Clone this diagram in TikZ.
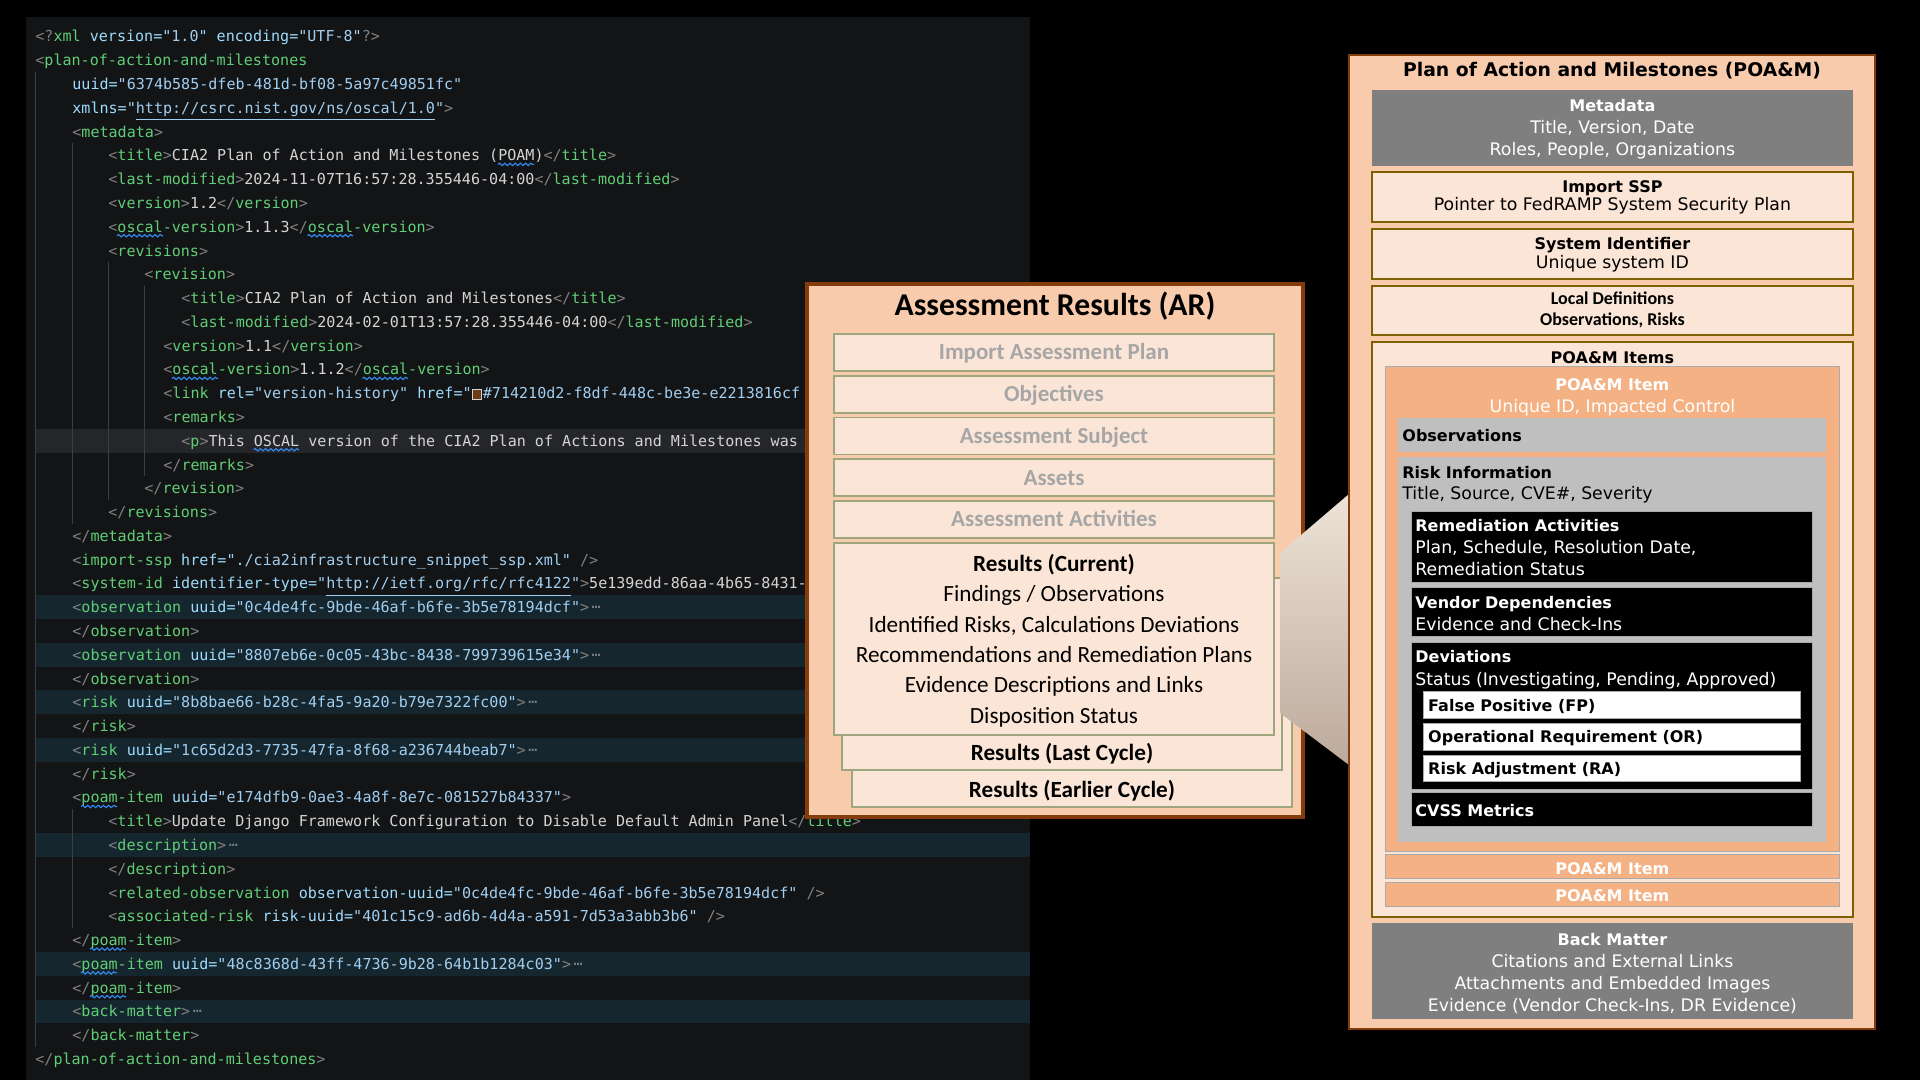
\documentclass[tikz,border=0pt]{standalone}
\usepackage{fontspec}
\setmainfont{DejaVu Sans}
\setmonofont{DejaVu Sans Mono}
\newfontfamily\arfont{Carlito}
\usetikzlibrary{fit,positioning,decorations.pathmorphing}

\definecolor{edbg}{RGB}{19,20,22}
\definecolor{edfold}{RGB}{22,38,46}
\definecolor{edcur}{RGB}{37,38,41}
\definecolor{edguide}{RGB}{62,62,64}
\definecolor{xbrc}{RGB}{128,128,128}
\definecolor{xtgc}{RGB}{96,206,118}
\definecolor{xatc}{RGB}{156,220,254}
\definecolor{xstc}{RGB}{160,206,240}
\definecolor{xtxc}{RGB}{212,212,212}
\definecolor{squigc}{RGB}{52,140,245}
\definecolor{sqc}{RGB}{110,60,20}
\definecolor{arbrown}{RGB}{132,60,12}
\definecolor{arpeach}{RGB}{248,203,173}
\definecolor{arlight}{RGB}{251,229,214}
\definecolor{arolive}{RGB}{158,166,126}
\definecolor{argray}{RGB}{166,166,166}
\definecolor{pmolive}{RGB}{127,96,0}
\definecolor{pmgray}{RGB}{127,127,127}
\definecolor{pmorange}{RGB}{244,177,131}
\definecolor{pmsilver}{RGB}{191,191,191}
\definecolor{pmedge}{RGB}{170,170,170}
\definecolor{wedgetop}{RGB}{238,227,215}
\definecolor{wedgebot}{RGB}{188,170,156}

% xml colouring
\newcommand\xbr[1]{\textcolor{xbrc}{#1}}
\newcommand\xtg[1]{\textcolor{xtgc}{#1}}
\newcommand\xat[1]{\textcolor{xatc}{#1}}
\newcommand\xst[1]{\textcolor{xstc}{#1}}
\newcommand\xtx[1]{\textcolor{xtxc}{#1}}
\newcommand\xop[1]{\xbr{<}\xtg{#1}\xbr{>}}
\newcommand\xcl[1]{\xbr{</}\xtg{#1}\xbr{>}}
\newcommand\xfold{\xbr{\,\raisebox{2pt}{…}}}
\newcommand\colsq{{\setlength\fboxsep{0pt}\setlength\fboxrule{0.5pt}\fcolorbox{xtxc}{sqc}{\rule{0pt}{4.2pt}\rule{4.2pt}{0pt}}}\hspace{0.4pt}}
\newcommand\codeln[3]{\node[code] (c#1) at (#2,{18.22+23.78*#1}) {#3};}

\begin{document}
\begin{tikzpicture}[x=0.5pt, y=-0.5pt,
  code/.style={anchor=base west, inner sep=0pt, font=\ttfamily\fontsize{7.53}{9}\selectfont},
  guide/.style={draw=edguide, line width=0.5pt},
  squig/.style={draw=squigc, line width=0.55pt, decorate, decoration={snake, amplitude=0.6pt, segment length=2.6pt}},
  arframe/.style={draw=arbrown, line width=1.6pt, fill=arpeach, inner sep=0pt},
  arpart/.style={draw=arolive, line width=0.8pt, fill=arlight, inner sep=0pt},
  argrey/.style={anchor=base, inner sep=0pt, text=argray, font=\arfont\bfseries\fontsize{11.5}{14}\selectfont},
  arhead/.style={anchor=base, inner sep=0pt, font=\arfont\bfseries\fontsize{11.6}{14}\selectfont},
  artext/.style={anchor=base, inner sep=0pt, font=\arfont\fontsize{11.6}{14}\selectfont},
  pmframe/.style={draw=arbrown, line width=1.2pt, fill=arpeach, inner sep=0pt},
  pmdark/.style={fill=pmgray, inner sep=0pt},
  pmpart/.style={draw=pmolive, line width=1pt, fill=arlight, inner sep=0pt},
  pmitem/.style={draw=pmedge, line width=0.5pt, fill=pmorange, inner sep=0pt},
  pmsub/.style={fill=pmsilver, inner sep=0pt},
  pmblack/.style={fill=black, draw=pmedge, line width=0.4pt, inner sep=0pt},
  pmwhite/.style={fill=white, draw=pmedge, line width=0.4pt, inner sep=0pt},
  pmhead/.style={anchor=base, inner sep=0pt, font=\bfseries\fontsize{8}{10}\selectfont},
  pmtext/.style={anchor=base, inner sep=0pt, font=\fontsize{8.65}{10}\selectfont}
]
\useasboundingbox (0,0) rectangle (1920,1080);
\fill[black] (0,0) rectangle (1920,1080);

% editor
\fill[edbg] (26,17) rectangle (1030,1080);
\fill[edcur] (35,{36.5+23.78*17-11.9}) rectangle (1030,{36.5+23.78*17+11.9});
\foreach \n in {25,27,29,31,35,40,42}
  \fill[edfold] (35,{36.5+23.78*(\n-1)-11.9}) rectangle (1030,{36.5+23.78*(\n-1)+11.9});
\foreach \x/\a/\b in {35/3/43, 72/6/21, 108/11/20, 144/12/19, 72/34/38}
  \draw[guide] (\x,{24.6+23.78*(\a-1)}) -- (\x,{48.4+23.78*(\b-1)});

\codeln{1}{35}{\xbr{<?}\xtg{xml} \xat{version=}\xst{"1.0"} \xat{encoding=}\xst{"UTF-8"}\xbr{?>}}
\codeln{2}{35}{\xbr{<}\xtg{plan-of-action-and-milestones}}
\codeln{3}{72}{\xat{uuid=}\xst{"6374b585-dfeb-481d-bf08-5a97c49851fc"}}
\codeln{4}{72}{\xat{xmlns=}\xst{"\underline{http://csrc.nist.gov/ns/oscal/1.0}"}\xbr{>}}
\codeln{5}{72}{\xop{metadata}}
\codeln{6}{108}{\xop{title}\xtx{CIA2 Plan of Action and Milestones (POAM)}\xcl{title}}
\codeln{7}{108}{\xop{last-modified}\xtx{2024-11-07T16:57:28.355446-04:00}\xcl{last-modified}}
\codeln{8}{108}{\xop{version}\xtx{1.2}\xcl{version}}
\codeln{9}{108}{\xop{oscal-version}\xtx{1.1.3}\xcl{oscal-version}}
\codeln{10}{108}{\xop{revisions}}
\codeln{11}{144}{\xop{revision}}
\codeln{12}{181}{\xop{title}\xtx{CIA2 Plan of Action and Milestones}\xcl{title}}
\codeln{13}{181}{\xop{last-modified}\xtx{2024-02-01T13:57:28.355446-04:00}\xcl{last-modified}}
\codeln{14}{163}{\xop{version}\xtx{1.1}\xcl{version}}
\codeln{15}{163}{\xop{oscal-version}\xtx{1.1.2}\xcl{oscal-version}}
\codeln{16}{163}{\xbr{<}\xtg{link} \xat{rel=}\xst{"version-history"} \xat{href=}\xst{"}\colsq\xst{\#714210d2-f8df-448c-be3e-e2213816cf}}
\codeln{17}{163}{\xop{remarks}}
\codeln{18}{181}{\xop{p}\xtx{This OSCAL version of the CIA2 Plan of Actions and Milestones was}}
\codeln{19}{163}{\xcl{remarks}}
\codeln{20}{144}{\xcl{revision}}
\codeln{21}{108}{\xcl{revisions}}
\codeln{22}{72}{\xcl{metadata}}
\codeln{23}{72}{\xbr{<}\xtg{import-ssp} \xat{href=}\xst{"./cia2infrastructure\_snippet\_ssp.xml"} \xbr{/>}}
\codeln{24}{72}{\xbr{<}\xtg{system-id} \xat{identifier-type=}\xst{"\underline{http://ietf.org/rfc/rfc4122}"}\xbr{>}\xtx{5e139edd-86aa-4b65-8431-}}
\codeln{25}{72}{\xbr{<}\xtg{observation} \xat{uuid=}\xst{"0c4de4fc-9bde-46af-b6fe-3b5e78194dcf"}\xbr{>}\xfold}
\codeln{26}{72}{\xcl{observation}}
\codeln{27}{72}{\xbr{<}\xtg{observation} \xat{uuid=}\xst{"8807eb6e-0c05-43bc-8438-799739615e34"}\xbr{>}\xfold}
\codeln{28}{72}{\xcl{observation}}
\codeln{29}{72}{\xbr{<}\xtg{risk} \xat{uuid=}\xst{"8b8bae66-b28c-4fa5-9a20-b79e7322fc00"}\xbr{>}\xfold}
\codeln{30}{72}{\xcl{risk}}
\codeln{31}{72}{\xbr{<}\xtg{risk} \xat{uuid=}\xst{"1c65d2d3-7735-47fa-8f68-a236744beab7"}\xbr{>}\xfold}
\codeln{32}{72}{\xcl{risk}}
\codeln{33}{72}{\xbr{<}\xtg{poam-item} \xat{uuid=}\xst{"e174dfb9-0ae3-4a8f-8e7c-081527b84337"}\xbr{>}}
\codeln{34}{108}{\xop{title}\xtx{Update Django Framework Configuration to Disable Default Admin Panel}\xcl{title}}
\codeln{35}{108}{\xop{description}\xfold}
\codeln{36}{108}{\xcl{description}}
\codeln{37}{108}{\xbr{<}\xtg{related-observation} \xat{observation-uuid=}\xst{"0c4de4fc-9bde-46af-b6fe-3b5e78194dcf"} \xbr{/>}}
\codeln{38}{108}{\xbr{<}\xtg{associated-risk} \xat{risk-uuid=}\xst{"401c15c9-ad6b-4d4a-a591-7d53a3abb3b6"} \xbr{/>}}
\codeln{39}{72}{\xcl{poam-item}}
\codeln{40}{72}{\xbr{<}\xtg{poam-item} \xat{uuid=}\xst{"48c8368d-43ff-4736-9b28-64b1b1284c03"}\xbr{>}\xfold}
\codeln{41}{72}{\xcl{poam-item}}
\codeln{42}{72}{\xop{back-matter}\xfold}
\codeln{43}{72}{\xcl{back-matter}}
\codeln{44}{35}{\xcl{plan-of-action-and-milestones}}

\foreach \n/\a/\b in {6/498/534, 9/117/163, 9/307.5/353, 15/172/218, 15/362.5/408, 18/253.6/299, 33/81/117, 39/90/126, 40/81/117, 41/90/126}
  \draw[squig] (\a,{21.72+23.78*\n}) -- (\b,{21.72+23.78*\n});

% assessment results
\node[arframe, fit={(807,284) (1303,817)}] (ar) {};
\node[arhead, font=\arfont\bfseries\fontsize{15.85}{18}\selectfont] (art) at (1055,316) {Assessment Results (AR)};
\foreach \lab [count=\k from 0] in {Import Assessment Plan, Objectives, Assessment Subject, Assets, Assessment Activities} {
  \node[arpart, fit={(834,{334+41.75*\k}) (1274,{371+41.75*\k})}] (ar\k) {};
  \node[argrey] (art\k) at (1054,{359.8+41.75*\k}) {\lab};
}
\node[arpart, fit={(852,616) (1292,807)}] (earlier) {};
\node[arpart, fit={(842,578) (1282,770)}] (last) {};
\node[arpart, fit={(834,543) (1274,735)}] (current) {};
\node[arhead] (curt) at (1054,571.3) {Results (Current)};
\foreach \lab [count=\i] in {{Findings / Observations}, {Identified Risks, Calculations Deviations}, {Recommendations and Remediation Plans}, {Evidence Descriptions and Links}, {Disposition Status}}
  \node[artext] (cur\i) at (1054,{571.3+30.4*\i}) {\lab};
\node[arhead] (lastt) at (1062,760.3) {Results (Last Cycle)};
\node[arhead] (earliert) at (1072,797.3) {Results (Earlier Cycle)};

% zoom wedge
\shade[top color=wedgetop, bottom color=wedgebot] (1280,553) -- (1349,494) -- (1349,765) -- (1280,713) -- cycle;

% plan of action and milestones
\node[pmframe, fit={(1349,55) (1875,1029)}] (poam) {};
\node[pmhead, font=\bfseries\fontsize{9.4}{11}\selectfont] (poamt) at (1612,76.2) {Plan of Action and Milestones (POA\&M)};

\node[pmdark, fit={(1372,90) (1853,165.7)}] (meta) {};
\node[pmhead, text=white] (metat) at (1612.4,112) {Metadata};
\foreach \lab [count=\i] in {{Title, Version, Date}, {Roles, People, Organizations}}
  \node[pmtext, text=white] (meta\i) at (1612.4,{112+22*\i}) {\lab};

\node[pmpart, fit={(1372,171.7) (1853,221.7)}] (ssp) {};
\node[pmhead] (sspt) at (1612.4,192.7) {Import SSP};
\node[pmtext] (ssp1) at (1612.4,211) {Pointer to FedRAMP System Security Plan};

\node[pmpart, fit={(1372,229.3) (1853,279.3)}] (sysid) {};
\node[pmhead] (sysidt) at (1612.4,250) {System Identifier};
\node[pmtext] (sysid1) at (1612.4,268.3) {Unique system ID};

\node[pmpart, fit={(1372,285.7) (1853,335)}] (locdef) {};
\node[pmhead, font=\arfont\bfseries\fontsize{9}{11}\selectfont] (locdeft) at (1612.4,305) {Local Definitions};
\node[pmhead, font=\arfont\bfseries\fontsize{9}{11}\selectfont] (locdef1) at (1612.4,325.7) {Observations, Risks};

\node[pmpart, fit={(1372,342.3) (1853,916.7)}] (items) {};
\node[pmhead] (itemst) at (1612.4,363.3) {POA\&M Items};
\node[pmitem, fit={(1385.5,366.7) (1839.3,851)}] (item1) {};
\node[pmhead, text=white] (item1t) at (1612.4,390) {POA\&M Item};
\node[pmtext, text=white] (item1s) at (1612.4,412) {Unique ID, Impacted Control};

\node[pmsub, fit={(1398,418.3) (1826,451.7)}] (obs) {};
\node[pmhead, anchor=base west] (obst) at (1402,441.3) {Observations};
\node[pmsub, fit={(1398,457.3) (1826,841.7)}] (risk) {};
\node[pmhead, anchor=base west] (riskt) at (1402,478.3) {Risk Information};
\node[pmtext, anchor=base west] (risk1) at (1402,499.3) {Title, Source, CVE\#, Severity};

\node[pmblack, fit={(1411.3,511.7) (1812.8,582.3)}] (remed) {};
\node[pmhead, anchor=base west, text=white] (remedt) at (1415,531) {Remediation Activities};
\foreach \lab [count=\i] in {{Plan, Schedule, Resolution Date,}, {Remediation Status}}
  \node[pmtext, anchor=base west, text=white] (remed\i) at (1415,{531+22.15*\i}) {\lab};

\node[pmblack, fit={(1411.3,587.7) (1812.8,636.7)}] (vendor) {};
\node[pmhead, anchor=base west, text=white] (vendort) at (1415,608.3) {Vendor Dependencies};
\node[pmtext, anchor=base west, text=white] (vendor1) at (1415,630) {Evidence and Check-Ins};

\node[pmblack, fit={(1411.3,642.7) (1812.8,789.3)}] (dev) {};
\node[pmhead, anchor=base west, text=white] (devt) at (1415,662.7) {Deviations};
\node[pmtext, anchor=base west, text=white] (dev1) at (1415,685) {Status (Investigating, Pending, Approved)};
\foreach \lab/\y [count=\k] in {False Positive (FP)/691.7, Operational Requirement (OR)/723.3, Risk Adjustment (RA)/755} {
  \node[pmwhite, fit={(1423.7,\y) (1800.7,{\y+26.7})}] (dv\k) {};
  \node[pmhead, anchor=base west] (dvt\k) at (1427.8,{\y+19.6}) {\lab};
}
\node[pmblack, fit={(1411.3,792.7) (1812.8,826.7)}] (cvss) {};
\node[pmhead, anchor=base west, text=white] (cvsst) at (1415,816) {CVSS Metrics};

\node[pmitem, fit={(1385.5,854.3) (1839.3,878.3)}] (item2) {};
\node[pmhead, text=white] (item2t) at (1612.4,874.3) {POA\&M Item};
\node[pmitem, fit={(1385.5,882.3) (1839.3,906)}] (item3) {};
\node[pmhead, text=white] (item3t) at (1612.4,901.3) {POA\&M Item};

\node[pmdark, fit={(1372,923.3) (1853,1019)}] (back) {};
\node[pmhead, text=white] (backt) at (1612.4,945.3) {Back Matter};
\foreach \lab [count=\i] in {{Citations and External Links}, {Attachments and Embedded Images}, {Evidence (Vendor Check-Ins, DR Evidence)}}
  \node[pmtext, text=white] (back\i) at (1612.4,{945.3+22*\i}) {\lab};

\end{tikzpicture}
\end{document}
